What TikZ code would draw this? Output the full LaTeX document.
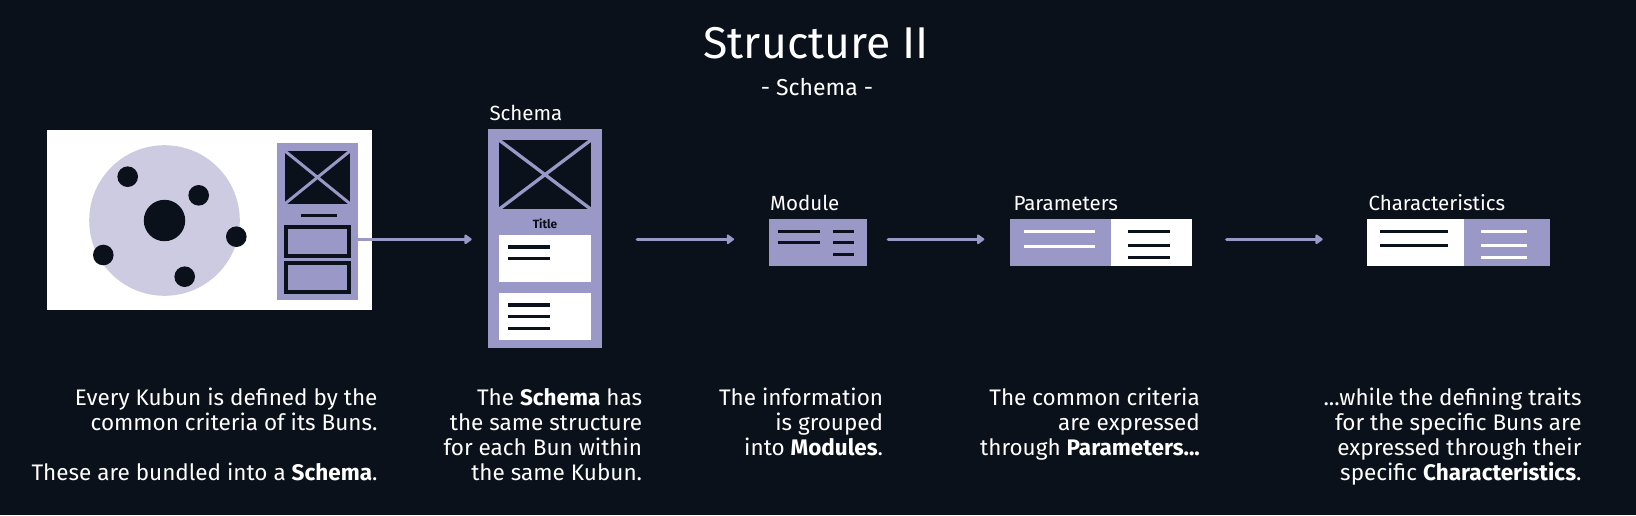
\documentclass[tikz,border=0pt]{standalone}
\usepackage{fontspec}
\setmainfont{Fira Sans}
\usepackage{tikz}
\usetikzlibrary{arrows.meta,positioning,calc}
\definecolor{cnight}{HTML}{0B111A}
\definecolor{clav}{HTML}{9A98C6}
\definecolor{clavlt}{HTML}{CCCBE1}
\definecolor{ink}{HTML}{FFFFFF}

\begin{document}
\begin{tikzpicture}[x=1pt,y=-1pt,
    tile/.style={inner sep=0pt,outer sep=0pt,anchor=north west},
    flow/.style={draw=clav,line width=3.5pt,line cap=round,-{Triangle[length=8pt,width=11pt,round]}},
    bar/.style={line width=3pt},
    lbl/.style={font=\fontsize{20.5}{24}\selectfont,color=ink,anchor=base west,inner sep=0pt},
    story/.style={font=\fontsize{22.5}{25}\selectfont,color=ink,align=right,anchor=base east,inner sep=0pt}]
  \useasboundingbox (0,0) rectangle (1636,515);
  \fill[cnight] (0,0) rectangle (1636,515);
  % title
  \node[font=\fontsize{44.5}{50}\selectfont,color=ink,anchor=base] (title) at (816,58) {Structure II};
  \node[font=\fontsize{23}{26}\selectfont,color=ink,anchor=base] (subtitle) at (817,95) {- Schema -};

  % kubun with its buns
  \node[tile,fill=white,minimum width=324.7pt,minimum height=180pt] (kubun) at (47,130) {};
  \fill[clavlt] (164.5,220.5) circle (75.3);
  \fill[cnight] (164.5,220.5) circle (20.7);
  \foreach \bx/\by in {127.7/176.7, 198.7/195.3, 236.3/236.7, 103.3/255, 184.7/276.7}
    \fill[cnight] (\bx,\by) circle (10.3);
  \node[tile,fill=clav,minimum width=80.4pt,minimum height=156.7pt] (minischema) at (277.3,143) {};
  \fill[cnight] (285,151) rectangle (350,203.7);
  \draw[clav,line width=3pt] (285,151) -- (350,203.7) (285,203.7) -- (350,151);
  \draw[cnight,line width=2.7pt] (301,215.3) -- (337,215.3);
  \draw[cnight,line width=4pt,fill=clav] (286,227) rectangle (349,255.7);
  \draw[cnight,line width=4pt,fill=clav] (286,263) rectangle (349,291.7);

  % schema
  \node[lbl] (schemalbl) at (489.3,120.7) {Schema};
  \node[tile,fill=clav,minimum width=114pt,minimum height=218.7pt] (schema) at (488,129) {};
  \fill[cnight] (499,140) rectangle (591,209.3);
  \draw[clav,line width=3.3pt] (499,140) -- (591,209.3) (499,209.3) -- (591,140);
  \node[font=\fontsize{12}{14}\selectfont\bfseries,color=cnight,inner sep=0pt] (schematitle) at (545,223.3) {Title};
  \fill[white] (499,235) rectangle (591,282);
  \fill[white] (499,293) rectangle (591,340);
  \foreach \ly in {247, 258.7, 305, 316.7, 328.3}
    \draw[cnight,line width=3.3pt] (508,\ly) -- (550,\ly);

  % module
  \node[lbl] (modulelbl) at (770,210) {Module};
  \node[tile,fill=clav,minimum width=98pt,minimum height=46.7pt] (module) at (769,219) {};
  \foreach \ly in {231.7, 242.7}
    \draw[cnight,bar] (777.7,\ly) -- (820,\ly);
  \foreach \ly in {231.7, 242.7, 254}
    \draw[cnight,bar] (833,\ly) -- (854,\ly);

  % parameters
  \node[lbl] (paramslbl) at (1013.3,210) {Parameters};
  \node[tile,fill=clav,minimum width=181.7pt,minimum height=46.7pt] (params) at (1010,219) {};
  \fill[white] (1110.7,219) rectangle (1191.7,265.7);
  \foreach \ly in {231.7, 246}
    \draw[white,bar] (1024,\ly) -- (1095,\ly);
  \foreach \ly in {231.3, 245.7, 257.3}
    \draw[cnight,bar] (1128,\ly) -- (1170,\ly);

  % characteristics
  \node[lbl] (charslbl) at (1368.3,210) {Characteristics};
  \node[tile,fill=white,minimum width=182.7pt,minimum height=46.7pt] (chars) at (1367,219) {};
  \fill[clav] (1464,219) rectangle (1549.7,265.7);
  \foreach \ly in {231.7, 245.7}
    \draw[cnight,bar] (1380,\ly) -- (1447.7,\ly);
  \foreach \ly in {231.7, 245.7, 257.3}
    \draw[white,bar] (1481,\ly) -- (1527,\ly);

  % arrows
  \coordinate (flowline) at (0,239.3);
  \draw[flow,shorten >=16.3pt] (minischema.east |- flowline) -- (schema.west |- flowline);
  \draw[flow,shorten <=35.3pt,shorten >=35pt] (schema.east |- flowline) -- (module.west |- flowline);
  \draw[flow,shorten <=21.3pt,shorten >=25.7pt] (module.east |- flowline) -- (params.west |- flowline);
  \draw[flow,shorten <=35pt,shorten >=44.3pt] (params.east |- flowline) -- (chars.west |- flowline);

  % captions (anchored at the last line)
  \node[story] (kubuntxt) at (377.7,480) {Every Kubun is defined by the\\common criteria of its Buns.\\[25pt]These are bundled into a \textbf{Schema}.};
  \node[story] (schematxt) at (642.3,480) {The \textbf{Schema} has\\the same structure\\for each Bun within\\the same Kubun.};
  \node[story] (moduletxt) at (883.3,455) {The information\\is grouped\\into \textbf{Modules}.};
  \node[story] (paramstxt) at (1200,455) {The common criteria\\are expressed\\through \textbf{Parameters...}};
  \node[story] (charstxt) at (1581.7,480) {...while the defining traits\\for the specific Buns are\\expressed through their\\specific \textbf{Characteristics}.};
\end{tikzpicture}
\end{document}
